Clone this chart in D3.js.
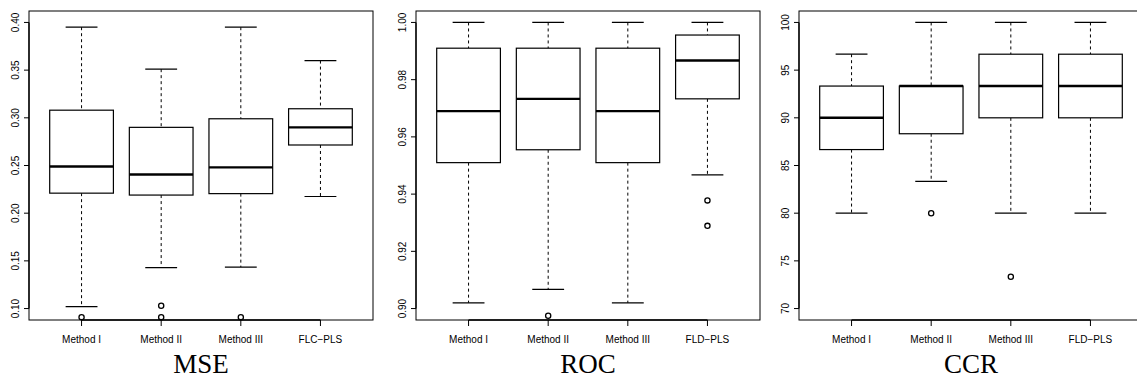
<!DOCTYPE html>
<html>
<head>
<meta charset="utf-8">
<script src="https://cdn.jsdelivr.net/npm/d3@7"></script>
<style>
  body { margin: 0; background: #fff; }
  svg { display: block; }
  .tick-label { font-family: "Liberation Sans", Arial, sans-serif; font-size: 10px; fill: #000; }
  .panel-title { font-family: "Liberation Serif", "DejaVu Serif", serif; font-size: 27px; fill: #000; }
</style>
</head>
<body>
<script>
const W = 1137, H = 380;

// categories
const methodsMSE = ['Method I', 'Method II', 'Method III', 'FLC\u2212PLS'];
const methodsCls = ['Method I', 'Method II', 'Method III', 'FLD\u2212PLS'];

// five-number summaries per method: [lower whisker, Q1, median, Q3, upper whisker]
const mseStats = [
  [0.102, 0.221, 0.249, 0.308, 0.395],
  [0.143, 0.219, 0.2405, 0.290, 0.351],
  [0.1435, 0.2205, 0.248, 0.299, 0.395],
  [0.2175, 0.2715, 0.290, 0.3095, 0.360]
];
const mseOutliers = [[0.091], [0.103, 0.091], [0.091], []];

const rocStats = [
  [0.902, 0.951, 0.969, 0.991, 1.00],
  [0.9067, 0.9555, 0.9733, 0.991, 1.00],
  [0.902, 0.951, 0.969, 0.991, 1.00],
  [0.9467, 0.9733, 0.9867, 0.9956, 1.00]
];
const rocOutliers = [[], [0.8975], [], [0.9378, 0.9289]];

const ccrStats = [
  [80, 86.67, 90, 93.33, 96.67],
  [83.33, 88.33, 93.33, 93.33, 100],
  [80, 90, 93.33, 96.67, 100],
  [80, 90, 93.33, 96.67, 100]
];
const ccrOutliers = [[], [80], [73.33], []];

// tick values and y limits
const mseTicks = [0.10, 0.15, 0.20, 0.25, 0.30, 0.35, 0.40];
const rocTicks = [0.90, 0.92, 0.94, 0.96, 0.98, 1.00];
const ccrTicks = [70, 75, 80, 85, 90, 95, 100];

const panels = [
  {title: 'MSE', cats: methodsMSE, stats: mseStats, out: mseOutliers, ticks: mseTicks, lim: [0.10, 0.40], fmt: '.2f', left: 29},
  {title: 'ROC', cats: methodsCls, stats: rocStats, out: rocOutliers, ticks: rocTicks, lim: [0.90, 1.00], fmt: '.2f', left: 416},
  {title: 'CCR', cats: methodsCls, stats: ccrStats, out: ccrOutliers, ticks: ccrTicks, lim: [70, 100], fmt: 'd', left: 799}
];

const pw = 344, plotTop = 11, plotBottom = 320;

const svg = d3.select('body').append('svg')
  .attr('width', W)
  .attr('height', H)
  .attr('viewBox', [0, 0, W, H]);

panels.forEach(p => {
  const pad = 0.04 * (p.lim[1] - p.lim[0]);
  const y = d3.scaleLinear()
    .domain([p.lim[0] - pad, p.lim[1] + pad])
    .range([plotBottom, plotTop]);
  // R style x limits: 0.5..n+0.5 extended by 4%
  const n = p.cats.length;
  const xpad = 0.04 * n;
  const x = d3.scaleLinear()
    .domain([0.5 - xpad, n + 0.5 + xpad])
    .range([p.left, p.left + pw]);
  const bw = x(0.8) - x(0);

  const g = svg.append('g');

  // frame
  g.append('rect')
    .attr('x', p.left).attr('y', plotTop)
    .attr('width', pw).attr('height', plotBottom - plotTop)
    .attr('fill', 'none').attr('stroke', '#000').attr('stroke-width', 1);

  // y axis
  const yAxis = g.append('g');
  yAxis.append('line')
    .attr('x1', p.left).attr('x2', p.left)
    .attr('y1', y(p.lim[0])).attr('y2', y(p.lim[1]))
    .attr('stroke', '#000').attr('stroke-width', 1.3);
  yAxis.selectAll('line.tk')
    .data(p.ticks)
    .join('line')
      .attr('class', 'tk')
      .attr('x1', p.left - 5).attr('x2', p.left)
      .attr('y1', d => y(d)).attr('y2', d => y(d))
      .attr('stroke', '#000');
  yAxis.selectAll('text')
    .data(p.ticks)
    .join('text')
      .attr('class', 'tick-label')
      .attr('text-anchor', 'middle')
      .attr('transform', d => `translate(${p.left - 10},${y(d)}) rotate(-90)`)
      .text(d => d3.format(p.fmt)(d));

  // x axis
  const xAxis = g.append('g');
  xAxis.append('line')
    .attr('x1', x(1)).attr('x2', x(n))
    .attr('y1', plotBottom).attr('y2', plotBottom)
    .attr('stroke', '#000').attr('stroke-width', 1.3);
  xAxis.selectAll('line.tk')
    .data(p.cats)
    .join('line')
      .attr('class', 'tk')
      .attr('x1', (d, i) => x(i + 1)).attr('x2', (d, i) => x(i + 1))
      .attr('y1', plotBottom).attr('y2', plotBottom + 6)
      .attr('stroke', '#000');
  xAxis.selectAll('text')
    .data(p.cats)
    .join('text')
      .attr('class', 'tick-label')
      .attr('text-anchor', 'middle')
      .attr('x', (d, i) => x(i + 1))
      .attr('y', plotBottom + 23)
      .text(d => d);

  // boxes
  const boxes = g.selectAll('g.box')
    .data(p.stats)
    .join('g')
      .attr('class', 'box');

  boxes.append('line') // upper whisker
    .attr('x1', (d, i) => x(i + 1)).attr('x2', (d, i) => x(i + 1))
    .attr('y1', d => y(d[4])).attr('y2', d => y(d[3]))
    .attr('stroke', '#000').attr('stroke-dasharray', '3,3');
  boxes.append('line') // lower whisker
    .attr('x1', (d, i) => x(i + 1)).attr('x2', (d, i) => x(i + 1))
    .attr('y1', d => y(d[1])).attr('y2', d => y(d[0]))
    .attr('stroke', '#000').attr('stroke-dasharray', '3,3');
  boxes.selectAll('line.cap')
    .data((d, i) => [[i, d[0]], [i, d[4]]])
    .join('line')
      .attr('class', 'cap')
      .attr('x1', d => x(d[0] + 1) - bw / 4).attr('x2', d => x(d[0] + 1) + bw / 4)
      .attr('y1', d => y(d[1])).attr('y2', d => y(d[1]))
      .attr('stroke', '#000').attr('stroke-width', 1.2);
  boxes.append('rect')
    .attr('x', (d, i) => x(i + 1) - bw / 2)
    .attr('width', bw)
    .attr('y', d => y(d[3]))
    .attr('height', d => y(d[1]) - y(d[3]))
    .attr('fill', '#fff').attr('stroke', '#000').attr('stroke-width', 1.2);
  boxes.append('line') // median
    .attr('x1', (d, i) => x(i + 1) - bw / 2).attr('x2', (d, i) => x(i + 1) + bw / 2)
    .attr('y1', d => y(d[2])).attr('y2', d => y(d[2]))
    .attr('stroke', '#000').attr('stroke-width', 2.4);

  // outliers
  const pts = p.out.flatMap((arr, i) => arr.map(v => [i, v]));
  g.selectAll('circle')
    .data(pts)
    .join('circle')
      .attr('cx', d => x(d[0] + 1))
      .attr('cy', d => y(d[1]))
      .attr('r', 2.6)
      .attr('fill', '#fff').attr('stroke', '#000').attr('stroke-width', 1.3);

  // title
  g.append('text')
    .attr('class', 'panel-title')
    .attr('text-anchor', 'middle')
    .attr('x', x((n + 1) / 2))
    .attr('y', 373)
    .text(p.title);
});
</script>
</body>
</html>
